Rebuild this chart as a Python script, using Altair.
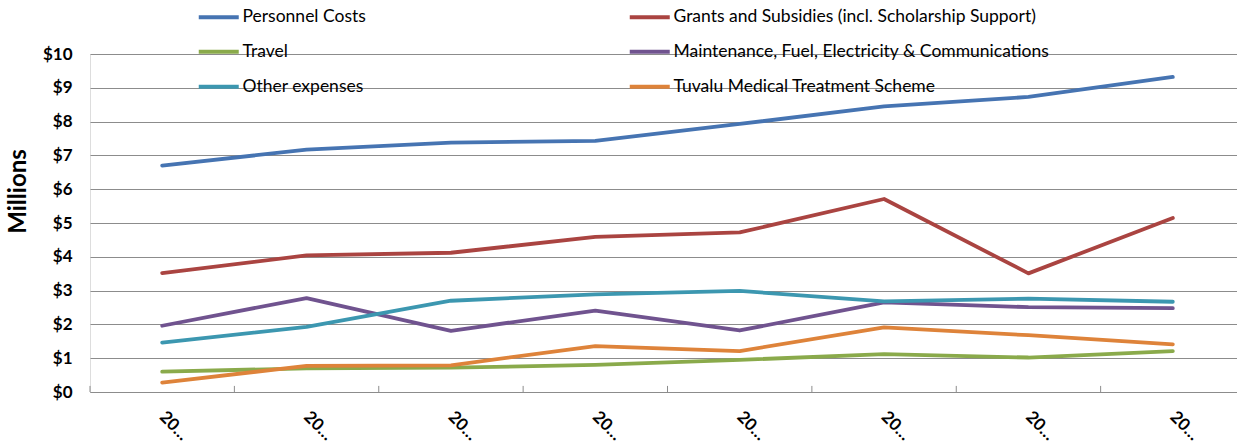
import altair as alt
import pandas as pd

# Fiscal years on the category axis
years = ["2006", "2007", "2008", "2009", "2010", "2011", "2012", "2013"]

series_names = [
    "Personnel Costs",
    "Grants and Subsidies (incl. Scholarship Support)",
    "Travel",
    "Maintenance, Fuel, Electricity & Communications",
    "Other expenses",
    "Tuvalu Medical Treatment Scheme",
]
series_colors = ["#4674B2", "#AA4441", "#8AAA4B", "#70538F", "#3C97B0", "#DE833A"]

# Expenditure in millions of dollars
personnel = [6.70, 7.17, 7.38, 7.43, 7.93, 8.45, 8.73, 9.32]
grants = [3.52, 4.04, 4.12, 4.59, 4.72, 5.71, 3.51, 5.15]
travel = [0.60, 0.70, 0.72, 0.80, 0.95, 1.12, 1.02, 1.21]
maintenance = [1.96, 2.78, 1.81, 2.41, 1.82, 2.65, 2.51, 2.48]
other = [1.46, 1.93, 2.70, 2.89, 2.99, 2.68, 2.76, 2.67]
medical = [0.28, 0.77, 0.79, 1.36, 1.21, 1.91, 1.68, 1.41]

all_values = [personnel, grants, travel, maintenance, other, medical]

rows = []
for name, vals in zip(series_names, all_values):
    for yr, v in zip(years, vals):
        rows.append({"year": yr, "series": name, "value": v})
df = pd.DataFrame(rows)
ticks_df = pd.DataFrame({"year": years})

FONT = "Lato"
GRID = "#8C8C8C"

x_scale = alt.Scale(type="band", domain=years, paddingInner=0, paddingOuter=0,
                    range=[0, 1155])
y_scale = alt.Scale(domain=[0, 10], nice=False, zero=True)

y_axis = alt.Axis(
    title="Millions",
    values=list(range(11)),
    labelExpr="'$' + datum.value",
    labelOverlap=False,
    labelFont=FONT,
    labelFontSize=17,
    labelFontWeight="bold",
    labelColor="black",
    labelPadding=18,
    ticks=False,
    domain=False,
    grid=True,
    gridColor=GRID,
    gridWidth=1,
    titleFont=FONT,
    titleFontSize=24,
    titleFontWeight="bold",
    titleColor="black",
    titleAngle=-90,
    titleX=-72,
    titleY=137,
    titleAlign="center",
    titleBaseline="middle",
)

x_axis = alt.Axis(
    title=None,
    labelExpr="slice(datum.label, 0, 2) + '…'",
    labelAngle=45,
    labelAlign="left",
    labelBaseline="middle",
    labelPadding=22,
    labelFont=FONT,
    labelFontSize=17,
    labelFontWeight="bold",
    labelColor="black",
    labelOverlap=False,
    ticks=False,
    grid=False,
    domainColor=GRID,
    domainWidth=1,
)

lines = alt.Chart(df).mark_line(strokeWidth=3.8, strokeJoin="round", strokeCap="round").encode(
    x=alt.X("year:N", bandPosition=0.5, scale=x_scale, sort=years, axis=x_axis),
    y=alt.Y("value:Q", scale=y_scale, axis=y_axis),
    color=alt.Color("series:N",
                    scale=alt.Scale(domain=series_names, range=series_colors),
                    legend=alt.Legend(
                        title=None,
                        orient="none",
                        direction="horizontal",
                        legendX=120,
                        legendY=-46,
                        columns=2,
                        columnPadding=255,
                        rowPadding=16,
                        padding=0,
                        symbolType="M-4,0H4",
                        symbolSize=100,
                        symbolStrokeWidth=4,
                        labelOffset=15,
                        labelFont=FONT,
                        labelFontSize=17.5,
                        labelColor="black",
                        labelLimit=600,
                    )),
)

# Small inward tick marks at the category boundaries
tick_marks = alt.Chart(ticks_df).mark_rule(color=GRID, strokeWidth=1).encode(
    x=alt.X("year:N", bandPosition=0, scale=x_scale, sort=years, axis=x_axis),
    y=alt.Y(datum=0, scale=y_scale, axis=y_axis),
    y2=alt.datum(0.18),
)

chart = alt.layer(lines, tick_marks).properties(
    width=1147,
    height=338,
    autosize=alt.AutoSizeParams(type="none"),
    padding={"left": 90, "top": 54, "right": 0, "bottom": 56},
).configure_view(stroke=None).configure(background="white")

chart.save("out.html", embed_options={"renderer": "svg", "actions": False})
